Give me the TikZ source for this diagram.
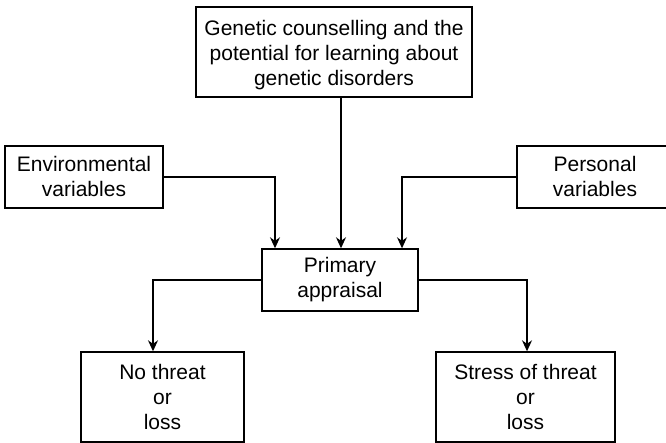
\documentclass[tikz,border=0pt]{standalone}
\usepackage{fontspec}
\setmainfont{Liberation Sans}
\usepackage{tikz}
\usetikzlibrary{arrows.meta}

\tikzset{
  box/.style={draw, line width=1.4pt, inner sep=0pt, align=center,
    font=\fontsize{21}{25}\selectfont},
  arr/.style={line width=1.4pt, -{Stealth[length=11pt,width=10pt]}},
}

\begin{document}
\begin{tikzpicture}[x=1pt, y=1pt]
    \clip (0,0) rectangle (666,443);

    \node[box, minimum width=276pt, minimum height=90pt] (g) at (334,391)
      {\rule{0pt}{22pt}Genetic counselling and the\\potential for learning about\\genetic disorders};
    \node[box, minimum width=158pt, minimum height=62pt] (env) at (84,266)
      {Environmental\\variables};
    \node[box, minimum width=156pt, minimum height=62pt] (pers) at (595,266)
      {Personal\\variables};

    \node[box, minimum width=156pt, minimum height=62pt] (pa) at (340,163)
      {Primary\\appraisal};

    \node[box, minimum width=163pt, minimum height=90pt] (nt) at (162.5,46)
      {No threat\\or\\loss};
    \node[box, minimum width=179pt, minimum height=90pt] (st) at (525.5,46)
      {Stress of threat\\or\\loss};

    % into primary appraisal
    \draw[arr] ([xshift=7pt]g.south) -- ([xshift=7pt]g.south |- pa.north);
    \draw[arr] (env.east) -| ([xshift=-65pt]pa.north);
    \draw[arr] (pers.west) -| ([xshift=62pt]pa.north);

    % outcomes
    \draw[arr] (pa.west) -| ([xshift=-9.5pt]nt.north);
    \draw[arr] (pa.east) -| ([xshift=1.5pt]st.north);
\end{tikzpicture}
\end{document}
